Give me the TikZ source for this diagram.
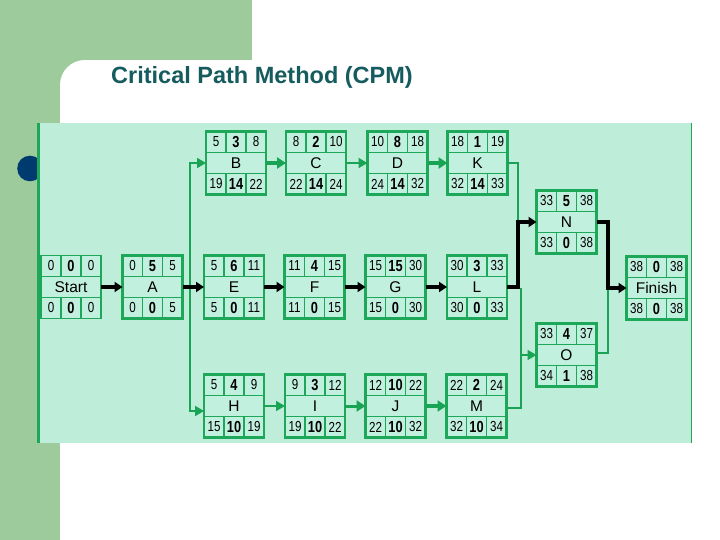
\documentclass[tikz,border=0pt]{standalone}
\usepackage{fontspec}
\setmainfont{Liberation Sans}
\newfontfamily\cellfont[FakeStretch=0.8]{Liberation Sans}
\usetikzlibrary{arrows.meta}
\definecolor{greenbg}{RGB}{158,203,155}
\definecolor{mint}{RGB}{190,238,218}
\definecolor{cellfill}{RGB}{194,240,222}
\definecolor{boxgreen}{RGB}{28,168,88}
\definecolor{linegreen}{RGB}{24,164,84}
\definecolor{bulletblue}{RGB}{0,59,111}
\definecolor{titleteal}{RGB}{22,92,94}
\def\boxw{2.8pt}
\def\cellw{1.8pt}
\tikzset{
  cpmbox/.style={draw=boxgreen, fill=cellfill, line width=\boxw, minimum width=60pt, minimum height=63pt, inner sep=0pt, outer sep=0pt},
  cellline/.style={draw=boxgreen, line width=\cellw},
  numtxt/.style={font=\cellfont\fontsize{14.5}{14.5}\selectfont, inner sep=0pt, text=black},
  durtxt/.style={font=\cellfont\fontsize{16}{16}\selectfont\bfseries, inner sep=0pt, text=black},
  nametxt/.style={font=\fontsize{15.5}{15.5}\selectfont, inner sep=0pt, text=black},
  titletxt/.style={font=\fontsize{23.5}{23.5}\selectfont\bfseries, text=titleteal, inner sep=0pt},
  bline/.style={draw=black, line width=3.6pt, -{Triangle[length=8pt,width=10pt]}},
  gthick/.style={draw=linegreen, line width=3.6pt, -{Triangle[length=9pt,width=11pt]}},
  gthin/.style={draw=linegreen, line width=1.8pt, -{Triangle[length=9pt,width=10pt]}},
  gplain/.style={draw=linegreen, line width=1.8pt},
}
\newcommand\cpmnode[9]{%
  \node[cpmbox,#2] (#1) {};
  \draw[cellline] ([yshift=10.5pt]#1.west) -- ([yshift=10.5pt]#1.east)
    ([yshift=-10.5pt]#1.west) -- ([yshift=-10.5pt]#1.east)
    ([xshift=-10pt]#1.north) -- ([xshift=-10pt,yshift=10.5pt]#1.center)
    ([xshift=10pt]#1.north) -- ([xshift=10pt,yshift=10.5pt]#1.center)
    ([xshift=-10pt]#1.south) -- ([xshift=-10pt,yshift=-10.5pt]#1.center)
    ([xshift=10pt]#1.south) -- ([xshift=10pt,yshift=-10.5pt]#1.center);
  \node[numtxt] (#1-es) at ([xshift=-20pt,yshift=21pt]#1.center) {#4};
  \node[durtxt] (#1-du) at ([yshift=21pt]#1.center) {#5};
  \node[numtxt] (#1-ef) at ([xshift=20pt,yshift=21pt]#1.center) {#6};
  \node[nametxt] (#1-nm) at (#1.center) {#3};
  \node[numtxt] (#1-ls) at ([xshift=-20pt,yshift=-21pt]#1.center) {#7};
  \node[durtxt] (#1-sl) at ([yshift=-21pt]#1.center) {#8};
  \node[numtxt] (#1-lf) at ([xshift=20pt,yshift=-21pt]#1.center) {#9};
}
\begin{document}
\begin{tikzpicture}[x=1pt,y=-1pt]
\useasboundingbox (0,0) rectangle (720,540);
% slide background
\fill[white] (0,0) rectangle (720,540);
\fill[greenbg] (0,0) rectangle (252,540);
\fill[white, rounded corners=25pt] (60,580) -- (60,60) -- (760,60) -- (760,580) -- cycle;
\fill[white] (252,0) rectangle (720,60);
\fill[greenbg] (0,0) rectangle (60,540);
\fill[greenbg] (0,0) rectangle (252,60);
\node[titletxt, anchor=base west] (title) at (111,84) {Critical Path Method (CPM)};
% bullet and panel
\fill[bulletblue] (30,168.5) circle (12.8);
\fill[mint] (37,123) rectangle (692,443);
\draw[boxgreen, line width=3pt] (38.5,123) -- (38.5,443);
\draw[boxgreen, line width=1.2pt] (691.2,123) -- (691.2,443);
% nodes
\begingroup
\def\boxw{1.3pt}\def\cellw{1.1pt}
\cpmnode{Start}{at={(71,287)}}{Start}{0}{0}{0}{0}{0}{0}
\endgroup
\cpmnode{A}{at={(152.5,287)}}{A}{0}{5}{5}{0}{0}{5}
\cpmnode{B}{at={(236,163)}}{B}{5}{3}{8}{19}{14}{22}
\cpmnode{C}{at={(316,163)}}{C}{8}{2}{10}{22}{14}{24}
\cpmnode{D}{at={(397.5,163)}}{D}{10}{8}{18}{24}{14}{32}
\cpmnode{K}{at={(477.5,163)}}{K}{18}{1}{19}{32}{14}{33}
\cpmnode{E}{at={(234,287)}}{E}{5}{6}{11}{5}{0}{11}
\cpmnode{F}{at={(314.5,287)}}{F}{11}{4}{15}{11}{0}{15}
\cpmnode{G}{at={(395.5,287)}}{G}{15}{15}{30}{15}{0}{30}
\cpmnode{L}{at={(477,287)}}{L}{30}{3}{33}{30}{0}{33}
\cpmnode{H}{at={(234,406)}}{H}{5}{4}{9}{15}{10}{19}
\cpmnode{I}{at={(315,406)}}{I}{9}{3}{12}{19}{10}{22}
\cpmnode{J}{at={(395.5,406)}}{J}{12}{10}{22}{22}{10}{32}
\cpmnode{M}{at={(476.5,406)}}{M}{22}{2}{24}{32}{10}{34}
\cpmnode{N}{at={(566.5,222)}}{N}{33}{5}{38}{33}{0}{38}
\cpmnode{O}{at={(566.5,355)}}{O}{33}{4}{37}{34}{1}{38}
\cpmnode{Finish}{at={(656.5,288)}}{Finish}{38}{0}{38}{38}{0}{38}
% junction points
\coordinate (splitA) at (190,287);
\coordinate (kn) at (518,222);
\coordinate (lo) at (521,355);
\coordinate (nf) at (608,288);
% green connectors
\draw[gthin] (splitA) |- (B.west);
\draw[gthin] (splitA) |- ([yshift=-5pt]H.west);
\draw[gthick] (B.east) -- (C.west);
\draw[gthin] (C.east) -- (D.west);
\draw[gthick] (D.east) -- (K.west);
\draw[gplain] (K.east) -| (kn);
\draw[gthin, line width=1.5pt] ([yshift=-1.5pt]L.east) -| (lo) -- (O.west);
\draw[gplain, line width=2.6pt] ([yshift=-2pt]M.east) -| (lo);
\draw[gplain, line width=1.5pt] ([yshift=2pt]O.east) -| (nf);
\draw[gthin, line width=1.5pt] (H.east) -- (I.west);
\draw[gthick, line width=3pt] (I.east) -- (J.west);
\draw[gthick, line width=3.2pt] (J.east) -- (M.west);
% black (critical) connectors
\draw[bline] (Start.east) -- (A.west);
\draw[bline] (A.east) -- (E.west);
\draw[bline] (E.east) -- (F.west);
\draw[bline] (F.east) -- (G.west);
\draw[bline] (G.east) -- (L.west);
\draw[bline] (L.east) -| (kn) -- (N.west);
\draw[bline] (N.east) -| (nf) -- (Finish.west);
\end{tikzpicture}
\end{document}
